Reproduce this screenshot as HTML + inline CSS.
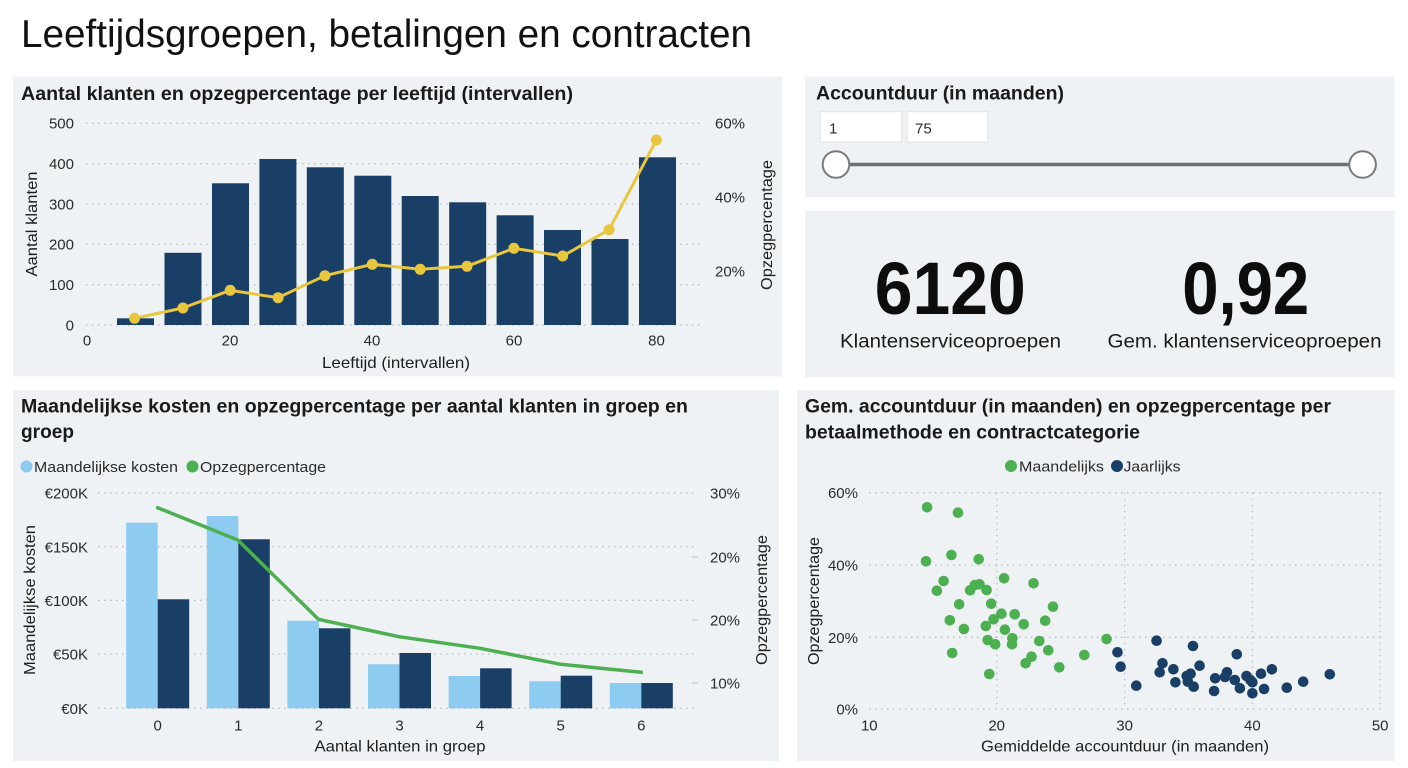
<!DOCTYPE html>
<html><head><meta charset="utf-8"><style>
html,body{margin:0;padding:0;background:#fff;}
svg{display:block;font-family:"Liberation Sans",sans-serif;}
.t{font-size:15px;fill:#2b2b2b;}
.ax{font-size:16px;fill:#1e1e1e;}
.h{font-size:19px;font-weight:bold;fill:#1a1a1a;}
.g{stroke:#b9bec4;stroke-width:1.3;stroke-dasharray:1.5 4.5;fill:none;}
</style></head><body>
<svg width="1408" height="768" viewBox="0 0 1408 768" xmlns="http://www.w3.org/2000/svg">
<rect width="1408" height="768" fill="#ffffff"/>
<text x="21" y="47" font-size="39" fill="#111" textLength="731" lengthAdjust="spacingAndGlyphs">Leeftijdsgroepen, betalingen en contracten</text>

<!-- Panels -->
<rect x="13" y="76.5" width="769" height="300" fill="#eef2f5"/>
<rect x="805" y="76.5" width="589.5" height="120.8" fill="#eef2f5"/>
<rect x="805" y="210.7" width="589.5" height="166.6" fill="#eef2f5"/>
<rect x="13" y="390" width="766" height="371" fill="#eef2f5"/>
<rect x="797" y="390" width="597.5" height="371" fill="#eef2f5"/>

<!-- Chart 1 -->
<text class="h" x="21" y="100" textLength="552" lengthAdjust="spacingAndGlyphs">Aantal klanten en opzegpercentage per leeftijd (intervallen)</text>
<g>
<line class="g" x1="86" y1="123.3" x2="703" y2="123.3"/>
<line class="g" x1="86" y1="163.7" x2="703" y2="163.7"/>
<line class="g" x1="86" y1="204" x2="703" y2="204"/>
<line class="g" x1="86" y1="244.3" x2="703" y2="244.3"/>
<line class="g" x1="86" y1="284.7" x2="703" y2="284.7"/>
<line class="g" x1="86" y1="325" x2="703" y2="325"/>
</g>
<g class="t" text-anchor="end">
<text x="74" y="128.5">500</text>
<text x="74" y="169">400</text>
<text x="74" y="209.3">300</text>
<text x="74" y="249.6">200</text>
<text x="74" y="290">100</text>
<text x="74" y="330.3">0</text>
</g>
<g class="t">
<text x="715" y="128.5">60%</text>
<text x="715" y="202.7">40%</text>
<text x="715" y="276.5">20%</text>
</g>
<g class="t" text-anchor="middle">
<text x="87" y="345.5">0</text>
<text x="230" y="345.5">20</text>
<text x="372" y="345.5">40</text>
<text x="514" y="345.5">60</text>
<text x="656.5" y="345.5">80</text>
</g>
<text class="ax" x="396" y="368" text-anchor="middle" textLength="148" lengthAdjust="spacingAndGlyphs">Leeftijd (intervallen)</text>
<text class="ax" transform="translate(37,224) rotate(-90)" text-anchor="middle" textLength="105" lengthAdjust="spacingAndGlyphs">Aantal klanten</text>
<text class="ax" transform="translate(772,225) rotate(-90)" text-anchor="middle" textLength="130" lengthAdjust="spacingAndGlyphs">Opzegpercentage</text>
<g fill="#193f66">
<rect x="117" y="318.3" width="37" height="6.7"/>
<rect x="164.5" y="252.8" width="37" height="72.2"/>
<rect x="212" y="183.3" width="37" height="141.7"/>
<rect x="259.4" y="159" width="37" height="166"/>
<rect x="306.8" y="167.3" width="37" height="157.7"/>
<rect x="354.3" y="175.7" width="37" height="149.3"/>
<rect x="401.7" y="196" width="37" height="129"/>
<rect x="449.2" y="202.3" width="37" height="122.7"/>
<rect x="496.6" y="215.3" width="37" height="109.7"/>
<rect x="544" y="230" width="37" height="95"/>
<rect x="591.5" y="239" width="37" height="86"/>
<rect x="639" y="157.3" width="37" height="167.7"/>
</g>
<polyline fill="none" stroke="#e8c63e" stroke-width="3" stroke-linejoin="round" points="134.5,318.3 182.9,308 230.2,290.3 278.1,297.7 324.9,275.7 372.3,264.3 420.2,269.3 467,266.3 513.9,248.3 562.7,256 609.1,229.7 656.4,140"/>
<g fill="#e8c63e">
<circle cx="134.5" cy="318.3" r="5.5"/><circle cx="182.9" cy="308" r="5.5"/><circle cx="230.2" cy="290.3" r="5.5"/><circle cx="278.1" cy="297.7" r="5.5"/><circle cx="324.9" cy="275.7" r="5.5"/><circle cx="372.3" cy="264.3" r="5.5"/><circle cx="420.2" cy="269.3" r="5.5"/><circle cx="467" cy="266.3" r="5.5"/><circle cx="513.9" cy="248.3" r="5.5"/><circle cx="562.7" cy="256" r="5.5"/><circle cx="609.1" cy="229.7" r="5.5"/><circle cx="656.4" cy="140" r="5.5"/>
</g>

<!-- Slicer -->
<text class="h" x="816" y="99.3" font-size="19.5" textLength="248" lengthAdjust="spacingAndGlyphs">Accountduur (in maanden)</text>
<rect x="820.4" y="111.7" width="81" height="30.3" fill="#fff" stroke="#e2e4e6" stroke-width="1"/>
<rect x="907.2" y="111.7" width="80.5" height="30.3" fill="#fff" stroke="#e2e4e6" stroke-width="1"/>
<text class="t" x="829" y="133.5" fill="#222">1</text>
<text class="t" x="915" y="133.5" fill="#222">75</text>
<line x1="836" y1="164.5" x2="1362.6" y2="164.5" stroke="#6f6f6f" stroke-width="3.5"/>
<circle cx="836" cy="164.5" r="13.3" fill="#fff" stroke="#7a7a7a" stroke-width="2"/>
<circle cx="1362.6" cy="164.5" r="13.3" fill="#fff" stroke="#7a7a7a" stroke-width="2"/>

<!-- KPI -->
<text x="950.3" y="314" font-size="74" font-weight="bold" fill="#0d0d0d" text-anchor="middle" textLength="151" lengthAdjust="spacingAndGlyphs">6120</text>
<text x="1245.7" y="314" font-size="74" font-weight="bold" fill="#0d0d0d" text-anchor="middle" textLength="127" lengthAdjust="spacingAndGlyphs">0,92</text>
<text x="950.5" y="347.3" font-size="19" fill="#1a1a1a" text-anchor="middle" textLength="221" lengthAdjust="spacingAndGlyphs">Klantenserviceoproepen</text>
<text x="1244.5" y="347.3" font-size="19" fill="#1a1a1a" text-anchor="middle" textLength="274" lengthAdjust="spacingAndGlyphs">Gem. klantenserviceoproepen</text>

<!-- Chart 2 -->
<text class="h" x="21" y="412.5" textLength="667" lengthAdjust="spacingAndGlyphs">Maandelijkse kosten en opzegpercentage per aantal klanten in groep en</text>
<text class="h" x="21" y="438" textLength="53" lengthAdjust="spacingAndGlyphs">groep</text>
<circle cx="26.5" cy="466.5" r="6" fill="#8ecbf0"/>
<text class="t" x="34" y="472" fill="#1e1e1e" textLength="144" lengthAdjust="spacingAndGlyphs">Maandelijkse kosten</text>
<circle cx="192.5" cy="466.5" r="6" fill="#4caf50"/>
<text class="t" x="200" y="472" fill="#1e1e1e" textLength="126" lengthAdjust="spacingAndGlyphs">Opzegpercentage</text>
<g>
<line class="g" x1="98" y1="493" x2="695" y2="493"/>
<line class="g" x1="98" y1="546.6" x2="695" y2="546.6"/>
<line class="g" x1="98" y1="600.3" x2="695" y2="600.3"/>
<line class="g" x1="98" y1="654" x2="695" y2="654"/>
<line class="g" x1="98" y1="708.3" x2="695" y2="708.3"/>
</g>
<g stroke="#c6cacf" stroke-width="1.2">
<line x1="692" y1="557" x2="698" y2="557"/>
<line x1="692" y1="620" x2="698" y2="620"/>
<line x1="692" y1="683" x2="698" y2="683"/>
</g>
<g class="t" text-anchor="end">
<text x="88" y="498.5">€200K</text>
<text x="88" y="552.3">€150K</text>
<text x="88" y="606">€100K</text>
<text x="88" y="659.7">€50K</text>
<text x="88" y="713.8">€0K</text>
</g>
<g class="t">
<text x="710" y="498.5">30%</text>
<text x="710" y="562.5">20%</text>
<text x="710" y="625.5">20%</text>
<text x="710" y="688.5">10%</text>
</g>
<g class="t" text-anchor="middle">
<text x="157.7" y="730.5">0</text>
<text x="238.3" y="730.5">1</text>
<text x="318.9" y="730.5">2</text>
<text x="399.5" y="730.5">3</text>
<text x="480.1" y="730.5">4</text>
<text x="560.7" y="730.5">5</text>
<text x="641.3" y="730.5">6</text>
</g>
<text class="ax" x="400" y="751.5" text-anchor="middle" textLength="171" lengthAdjust="spacingAndGlyphs">Aantal klanten in groep</text>
<text class="ax" transform="translate(35,600) rotate(-90)" text-anchor="middle" textLength="150" lengthAdjust="spacingAndGlyphs">Maandelijkse kosten</text>
<text class="ax" transform="translate(767,600) rotate(-90)" text-anchor="middle" textLength="130" lengthAdjust="spacingAndGlyphs">Opzegpercentage</text>
<g fill="#8ecbf0">
<rect x="126.2" y="522.7" width="31.5" height="185.6"/>
<rect x="206.8" y="516" width="31.5" height="192.3"/>
<rect x="287.4" y="620.7" width="31.5" height="87.6"/>
<rect x="368" y="664.3" width="31.5" height="44"/>
<rect x="448.6" y="676" width="31.5" height="32.3"/>
<rect x="529.2" y="681.3" width="31.5" height="27"/>
<rect x="609.8" y="683" width="31.5" height="25.3"/>
</g>
<g fill="#193f66">
<rect x="157.7" y="599.3" width="31.5" height="109"/>
<rect x="238.3" y="539.3" width="31.5" height="169"/>
<rect x="318.9" y="628.3" width="31.5" height="80"/>
<rect x="399.5" y="653" width="31.5" height="55.3"/>
<rect x="480.1" y="668.3" width="31.5" height="40"/>
<rect x="560.7" y="675.7" width="31.5" height="32.6"/>
<rect x="641.3" y="683" width="31.5" height="25.3"/>
</g>
<polyline fill="none" stroke="#4caf50" stroke-width="3.5" stroke-linejoin="round" stroke-linecap="round" points="157.7,507.7 237.8,540 318.4,619.3 399,636.7 480,648.3 560.7,664.3 641.3,672.3"/>

<!-- Chart 3 -->
<text class="h" x="805" y="412.5" textLength="526" lengthAdjust="spacingAndGlyphs">Gem. accountduur (in maanden) en opzegpercentage per</text>
<text class="h" x="805" y="438.5" textLength="335" lengthAdjust="spacingAndGlyphs">betaalmethode en contractcategorie</text>
<circle cx="1011" cy="466" r="6" fill="#4caf50"/>
<text class="t" x="1019" y="471.5" fill="#1e1e1e" textLength="85" lengthAdjust="spacingAndGlyphs">Maandelijks</text>
<circle cx="1117" cy="466" r="6" fill="#193f66"/>
<text class="t" x="1123.5" y="471.5" fill="#1e1e1e" textLength="57" lengthAdjust="spacingAndGlyphs">Jaarlijks</text>
<g>
<line class="g" x1="869" y1="492.7" x2="1381" y2="492.7"/>
<line class="g" x1="869" y1="565" x2="1381" y2="565"/>
<line class="g" x1="869" y1="637.3" x2="1381" y2="637.3"/>
<line class="g" x1="869" y1="709" x2="1381" y2="709"/>
<line class="g" x1="996.7" y1="492.7" x2="996.7" y2="709"/>
<line class="g" x1="1124.6" y1="492.7" x2="1124.6" y2="709"/>
<line class="g" x1="1252.4" y1="492.7" x2="1252.4" y2="709"/>
<line class="g" x1="1380.2" y1="492.7" x2="1380.2" y2="709"/>
</g>
<g class="t" text-anchor="end">
<text x="858" y="498.2">60%</text>
<text x="858" y="570.5">40%</text>
<text x="858" y="642.8">20%</text>
<text x="858" y="714.5">0%</text>
</g>
<g class="t" text-anchor="middle">
<text x="869.3" y="730.5">10</text>
<text x="996.7" y="730.5">20</text>
<text x="1124.6" y="730.5">30</text>
<text x="1252.4" y="730.5">40</text>
<text x="1380.2" y="730.5">50</text>
</g>
<text class="ax" x="1125" y="751.5" text-anchor="middle" textLength="288" lengthAdjust="spacingAndGlyphs">Gemiddelde accountduur (in maanden)</text>
<text class="ax" transform="translate(819,601) rotate(-90)" text-anchor="middle" textLength="128" lengthAdjust="spacingAndGlyphs">Opzegpercentage</text>
<g fill="#4caf50">
<circle cx="927.1" cy="507.3" r="5.3"/><circle cx="958" cy="512.7" r="5.3"/><circle cx="926" cy="561.3" r="5.3"/><circle cx="951.4" cy="555" r="5.3"/><circle cx="978.7" cy="559.3" r="5.3"/><circle cx="943.6" cy="581" r="5.3"/><circle cx="936.9" cy="590.7" r="5.3"/><circle cx="970.1" cy="590.3" r="5.3"/><circle cx="974.8" cy="585" r="5.3"/><circle cx="979.5" cy="584.3" r="5.3"/><circle cx="986.6" cy="590" r="5.3"/><circle cx="1004.1" cy="578.3" r="5.3"/><circle cx="1033.5" cy="583.3" r="5.3"/><circle cx="959.2" cy="604.3" r="5.3"/><circle cx="991.2" cy="603.7" r="5.3"/><circle cx="1001.4" cy="613.7" r="5.3"/><circle cx="993.6" cy="619.3" r="5.3"/><circle cx="1014.7" cy="614.3" r="5.3"/><circle cx="949.8" cy="620.3" r="5.3"/><circle cx="963.9" cy="629" r="5.3"/><circle cx="985.8" cy="626" r="5.3"/><circle cx="1004.9" cy="629.7" r="5.3"/><circle cx="1012.4" cy="638.3" r="5.3"/><circle cx="1023.7" cy="624.3" r="5.3"/><circle cx="1045.2" cy="620.7" r="5.3"/><circle cx="1053" cy="606.7" r="5.3"/><circle cx="987.7" cy="640" r="5.3"/><circle cx="995.2" cy="644.3" r="5.3"/><circle cx="1012" cy="644.3" r="5.3"/><circle cx="1039.3" cy="641" r="5.3"/><circle cx="1048.3" cy="650.3" r="5.3"/><circle cx="952.2" cy="653" r="5.3"/><circle cx="1031.5" cy="656.7" r="5.3"/><circle cx="1025.6" cy="663.3" r="5.3"/><circle cx="1059.3" cy="667.3" r="5.3"/><circle cx="1084.3" cy="655" r="5.3"/><circle cx="1106.6" cy="639" r="5.3"/><circle cx="989.3" cy="674" r="5.3"/>
</g>
<g fill="#193f66">
<circle cx="1156.6" cy="640.7" r="5.3"/><circle cx="1193" cy="646" r="5.3"/><circle cx="1117.5" cy="652.3" r="5.3"/><circle cx="1236.8" cy="654.3" r="5.3"/><circle cx="1120.6" cy="666.7" r="5.3"/><circle cx="1162.5" cy="663.3" r="5.3"/><circle cx="1199.6" cy="665.7" r="5.3"/><circle cx="1173.4" cy="669.3" r="5.3"/><circle cx="1159.7" cy="672.3" r="5.3"/><circle cx="1271.9" cy="669.3" r="5.3"/><circle cx="1261" cy="673.7" r="5.3"/><circle cx="1246.5" cy="676" r="5.3"/><circle cx="1329.8" cy="674.3" r="5.3"/><circle cx="1190.6" cy="673.7" r="5.3"/><circle cx="1186.7" cy="676" r="5.3"/><circle cx="1227" cy="672.3" r="5.3"/><circle cx="1215.2" cy="678.3" r="5.3"/><circle cx="1225" cy="677" r="5.3"/><circle cx="1234.8" cy="680" r="5.3"/><circle cx="1250.4" cy="680" r="5.3"/><circle cx="1252.4" cy="682.3" r="5.3"/><circle cx="1175.4" cy="682.3" r="5.3"/><circle cx="1187.9" cy="681.7" r="5.3"/><circle cx="1303.2" cy="681.7" r="5.3"/><circle cx="1136.3" cy="685.7" r="5.3"/><circle cx="1193.7" cy="686.7" r="5.3"/><circle cx="1239.9" cy="688.3" r="5.3"/><circle cx="1264.1" cy="689" r="5.3"/><circle cx="1286.8" cy="687.7" r="5.3"/><circle cx="1214.1" cy="691" r="5.3"/><circle cx="1252.4" cy="693.3" r="5.3"/>
</g>
</svg>
</body></html>
